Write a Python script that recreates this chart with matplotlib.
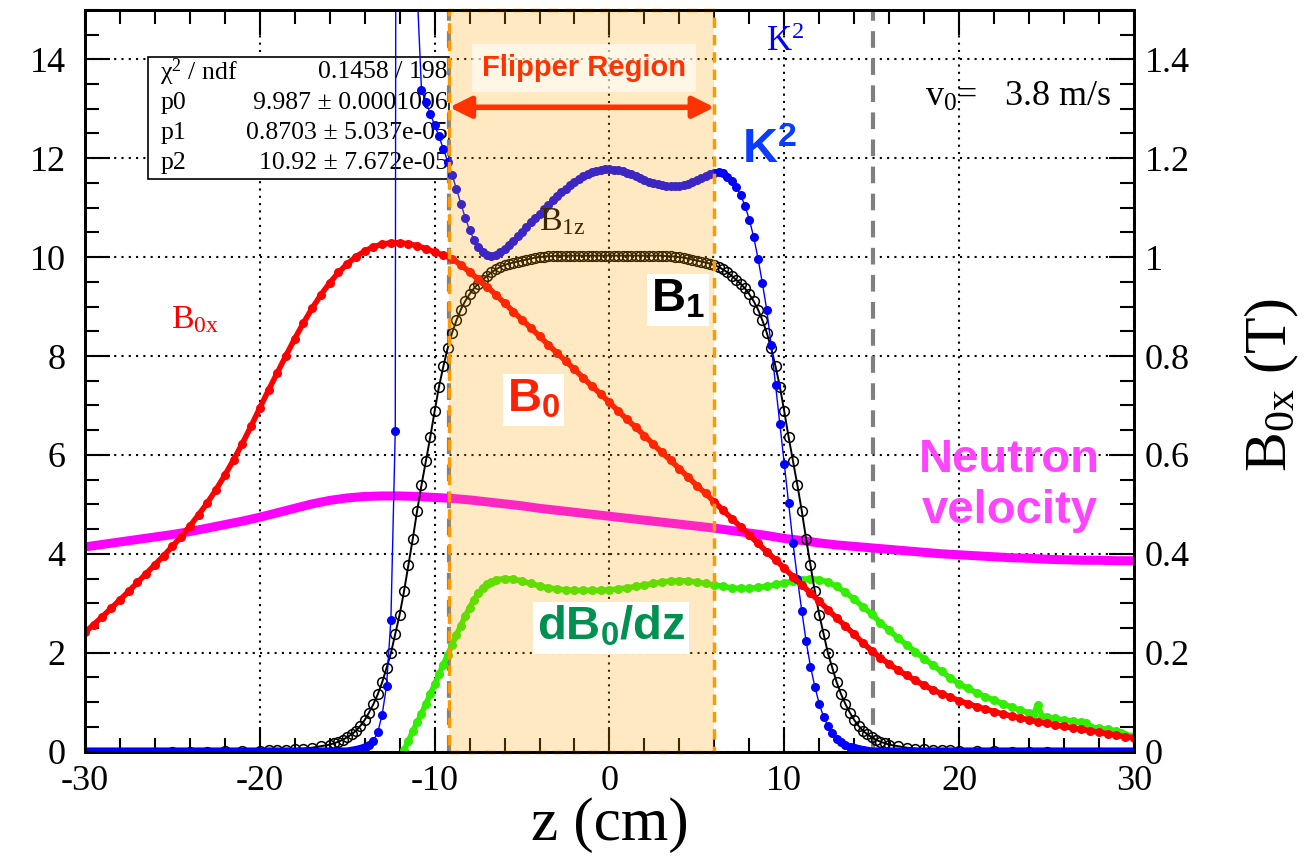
import numpy as np
import matplotlib.pyplot as plt
from matplotlib.patches import Rectangle
from matplotlib.ticker import MultipleLocator, FuncFormatter

plt.rcParams['font.family'] = 'Liberation Serif'
plt.rcParams['mathtext.fontset'] = 'custom'
plt.rcParams['mathtext.rm'] = 'Liberation Serif'
plt.rcParams['mathtext.it'] = 'Liberation Serif:italic'
plt.rcParams['mathtext.bf'] = 'Liberation Sans:bold'
plt.rcParams['axes.unicode_minus'] = False

# B0x (red), sampled every 0.5 cm from -30 to 30
z_b0 = np.arange(-30, 30.01, 0.5)
b0x = [2.41, 2.57, 2.73, 2.90, 3.07, 3.24, 3.42, 3.60, 3.78, 3.96,
       4.15, 4.35, 4.56, 4.79, 5.03, 5.30, 5.59, 5.90, 6.23, 6.58,
       6.95, 7.31, 7.66, 8.01, 8.35, 8.67, 8.97, 9.24, 9.48, 9.69,
       9.86, 10.01, 10.12, 10.21, 10.26, 10.29, 10.29, 10.27, 10.23, 10.17,
       10.10, 10.04, 9.97, 9.84, 9.70, 9.55, 9.40, 9.24, 9.07, 8.90,
       8.73, 8.57, 8.40, 8.23, 8.06, 7.90, 7.73, 7.56, 7.39, 7.23,
       7.06, 6.89, 6.72, 6.56, 6.39, 6.22, 6.05, 5.89, 5.72, 5.55,
       5.38, 5.22, 5.05, 4.88, 4.71, 4.55, 4.38, 4.21, 4.04, 3.88,
       3.71, 3.54, 3.37, 3.21, 3.04, 2.87, 2.70, 2.54, 2.37, 2.20,
       2.04, 1.90, 1.77, 1.65, 1.54, 1.44, 1.34, 1.25, 1.17, 1.10,
       1.03, 0.97, 0.91, 0.86, 0.81, 0.76, 0.72, 0.68, 0.64, 0.60,
       0.57, 0.54, 0.51, 0.48, 0.45, 0.42, 0.39, 0.36, 0.33, 0.30,
       0.28]

# neutron velocity (magenta), every 1 cm
z_vel = np.arange(-30, 30.01, 1.0)
vel = [4.14, 4.19, 4.24, 4.29, 4.34, 4.39, 4.45, 4.52, 4.59, 4.66,
       4.74, 4.83, 4.92, 5.01, 5.08, 5.13, 5.16, 5.17, 5.17, 5.16,
       5.14, 5.12, 5.09, 5.05, 5.01, 4.97, 4.92, 4.88, 4.84, 4.80,
       4.76, 4.72, 4.68, 4.64, 4.60, 4.56, 4.52, 4.47, 4.42, 4.37,
       4.31, 4.27, 4.22, 4.18, 4.15, 4.12, 4.09, 4.06, 4.03, 4.00,
       3.98, 3.96, 3.94, 3.92, 3.91, 3.89, 3.88, 3.87, 3.87, 3.86,
       3.86]

# dB0/dz (green)
dbdz = [(-11.75, 0.03), (-11.5, 0.22), (-11.25, 0.41), (-11.0, 0.59), (-10.75, 0.77),
        (-10.5, 0.96), (-10.25, 1.16), (-10.0, 1.36), (-9.75, 1.56), (-9.5, 1.76),
        (-9.25, 1.96), (-9.0, 2.16), (-8.75, 2.36), (-8.5, 2.55), (-8.25, 2.74),
        (-8.0, 2.91), (-7.75, 3.07), (-7.5, 3.20), (-7.25, 3.31), (-7.0, 3.39),
        (-6.75, 3.44), (-6.5, 3.47), (-6.0, 3.50), (-5.5, 3.49), (-5.0, 3.45),
        (-4.5, 3.40), (-4.0, 3.35), (-3.5, 3.31), (-3.0, 3.29), (-2.5, 3.27),
        (-2.0, 3.26), (-1.5, 3.26), (-1.0, 3.26), (-0.5, 3.26), (0.0, 3.27),
        (0.5, 3.29), (1.0, 3.31), (1.5, 3.34), (2.0, 3.37), (2.5, 3.40),
        (3.0, 3.43), (3.5, 3.45), (4.0, 3.46), (4.5, 3.45), (5.0, 3.43),
        (5.5, 3.40), (6.0, 3.37), (6.5, 3.34), (7.0, 3.31), (7.5, 3.30),
        (8.0, 3.30), (8.5, 3.32), (9.0, 3.34), (9.5, 3.38), (10.0, 3.41),
        (10.5, 3.45), (11.0, 3.48), (11.5, 3.50), (12.0, 3.48), (12.5, 3.43),
        (13.0, 3.34), (13.5, 3.22), (14.0, 3.08), (14.5, 2.93), (15.0, 2.78),
        (15.5, 2.61), (16.0, 2.45), (16.5, 2.30), (17.0, 2.16), (17.5, 2.02),
        (18.0, 1.88), (18.5, 1.75), (19.0, 1.62), (19.5, 1.49), (20.0, 1.37),
        (20.5, 1.28), (21.0, 1.19), (21.5, 1.11), (22.0, 1.04), (22.5, 0.97),
        (23.0, 0.90), (23.5, 0.84), (24.0, 0.78), (24.25, 0.75), (24.5, 0.95),
        (24.75, 0.70), (25.0, 0.69), (25.5, 0.67), (26.0, 0.64), (26.5, 0.61),
        (27.0, 0.59), (27.25, 0.57), (27.5, 0.50), (28.0, 0.47), (28.5, 0.45),
        (29.0, 0.42), (29.25, 0.38), (29.5, 0.34), (30.0, 0.32)]

# K^2 (blue)
k2 = [(-30.0, 0.0), (-29.0, 0.0), (-28.0, 0.0), (-27.0, 0.0), (-26.0, 0.0), (-25.0, 0.0),
      (-24.0, 0.0), (-23.0, 0.0), (-22.0, 0.0), (-21.0, 0.0), (-20.0, 0.0), (-19.0, 0.0),
      (-18.0, 0.0), (-17.0, 0.0), (-16.0, 0.0), (-15.0, 0.0),
      (-14.5, 0.03), (-14.25, 0.05), (-14.0, 0.08), (-13.75, 0.13), (-13.5, 0.22),
      (-13.25, 0.39), (-13.0, 0.75), (-12.75, 1.33), (-12.5, 2.67), (-12.25, 6.49),
      (-12.0, 90.0), (-11.75, 50.0), (-11.5, 26.0), (-11.25, 18.0), (-11.0, 15.4),
      (-10.75, 13.37), (-10.5, 13.14), (-10.25, 12.90), (-10.0, 12.67), (-9.75, 12.44),
      (-9.5, 12.19), (-9.25, 11.93), (-9.0, 11.66), (-8.75, 11.38), (-8.5, 11.08),
      (-8.25, 10.80), (-8.0, 10.55), (-7.75, 10.35), (-7.5, 10.20), (-7.25, 10.10),
      (-7.0, 10.05), (-6.75, 10.03), (-6.5, 10.05), (-6.25, 10.10), (-6.0, 10.17),
      (-5.75, 10.25), (-5.5, 10.33), (-5.25, 10.42), (-5.0, 10.51), (-4.75, 10.60),
      (-4.5, 10.70), (-4.25, 10.79), (-4.0, 10.88), (-3.75, 10.97), (-3.5, 11.06),
      (-3.25, 11.15), (-3.0, 11.24), (-2.75, 11.31), (-2.5, 11.38), (-2.25, 11.45),
      (-2.0, 11.52), (-1.75, 11.58), (-1.5, 11.64), (-1.25, 11.68), (-1.0, 11.72),
      (-0.75, 11.75), (-0.5, 11.77), (-0.25, 11.78), (0.0, 11.78), (0.25, 11.77),
      (0.5, 11.76), (0.75, 11.74), (1.0, 11.71), (1.25, 11.68), (1.5, 11.64),
      (1.75, 11.60), (2.0, 11.56), (2.25, 11.52), (2.5, 11.49), (2.75, 11.47),
      (3.0, 11.45), (3.25, 11.44), (3.5, 11.43), (3.75, 11.43), (4.0, 11.44),
      (4.25, 11.46), (4.5, 11.48), (4.75, 11.52), (5.0, 11.56), (5.25, 11.60),
      (5.5, 11.65), (5.75, 11.68), (6.0, 11.71), (6.25, 11.72), (6.5, 11.70),
      (6.75, 11.63), (7.0, 11.53), (7.25, 11.42), (7.5, 11.26), (7.75, 11.04),
      (8.0, 10.76), (8.25, 10.41), (8.5, 9.97), (8.75, 9.47), (9.0, 8.93),
      (9.25, 8.22), (9.5, 7.42), (9.75, 6.62), (10.0, 5.82), (10.25, 5.03),
      (10.5, 4.22), (10.75, 3.50), (11.0, 2.85), (11.25, 2.23), (11.5, 1.72),
      (11.75, 1.31), (12.0, 0.97), (12.25, 0.70), (12.5, 0.52), (12.75, 0.37),
      (13.0, 0.26), (13.25, 0.19), (13.5, 0.14), (13.75, 0.10), (14.0, 0.07),
      (14.5, 0.03), (15.0, 0.0), (16.0, 0.0), (17.0, 0.0), (18.0, 0.0), (19.0, 0.0),
      (20.0, 0.0), (21.0, 0.0), (22.0, 0.0), (23.0, 0.0), (24.0, 0.0), (25.0, 0.0),
      (26.0, 0.0), (27.0, 0.0), (28.0, 0.0), (29.0, 0.0), (30.0, 0.0)]

# B1z (black open circles)
b1 = [(-25.0, 0.0), (-24.0, 0.0), (-23.0, 0.0), (-22.0, 0.01), (-21.0, 0.01),
      (-20.0, 0.02), (-19.5, 0.03), (-19.0, 0.03), (-18.5, 0.04), (-18.0, 0.05),
      (-17.5, 0.06), (-17.0, 0.08), (-16.5, 0.11), (-16.0, 0.14), (-15.75, 0.17),
      (-15.5, 0.20), (-15.25, 0.24), (-15.0, 0.29), (-14.75, 0.35), (-14.5, 0.42),
      (-14.25, 0.52), (-14.0, 0.64), (-13.75, 0.79), (-13.5, 0.96), (-13.25, 1.16),
      (-13.0, 1.40), (-12.75, 1.69), (-12.5, 1.99), (-12.25, 2.38), (-12.0, 2.77),
      (-11.75, 3.24), (-11.5, 3.77), (-11.25, 4.30), (-11.0, 4.87), (-10.75, 5.39),
      (-10.5, 5.87), (-10.25, 6.36), (-10.0, 6.88), (-9.75, 7.38), (-9.5, 7.79),
      (-9.25, 8.16), (-9.0, 8.47), (-8.75, 8.72), (-8.5, 8.94), (-8.25, 9.11),
      (-8.0, 9.25), (-7.75, 9.37), (-7.5, 9.46), (-7.25, 9.54), (-7.0, 9.62),
      (-6.75, 9.69), (-6.5, 9.75), (-6.25, 9.80), (-6.0, 9.84), (-5.75, 9.87),
      (-5.5, 9.89), (-5.25, 9.91), (-5.0, 9.93), (-4.75, 9.95), (-4.5, 9.97),
      (-4.25, 9.99), (-4.0, 10.00), (-3.75, 10.01), (-3.5, 10.02), (-3.25, 10.02),
      (-3.0, 10.03), (-2.75, 10.03), (-2.5, 10.03), (-2.25, 10.03), (-2.0, 10.03),
      (-1.75, 10.03), (-1.5, 10.03), (-1.25, 10.03), (-1.0, 10.03), (-0.75, 10.03),
      (-0.5, 10.03), (-0.25, 10.03), (0.0, 10.03), (0.25, 10.03), (0.5, 10.03),
      (0.75, 10.03), (1.0, 10.03), (1.25, 10.03), (1.5, 10.03), (1.75, 10.03),
      (2.0, 10.03), (2.25, 10.03), (2.5, 10.03), (2.75, 10.03), (3.0, 10.03),
      (3.25, 10.02), (3.5, 10.02), (3.75, 10.01), (4.0, 10.00), (4.25, 9.99),
      (4.5, 9.97), (4.75, 9.95), (5.0, 9.93), (5.25, 9.91), (5.5, 9.89),
      (5.75, 9.87), (6.0, 9.84), (6.25, 9.80), (6.5, 9.75), (6.75, 9.69),
      (7.0, 9.62), (7.25, 9.54), (7.5, 9.46), (7.75, 9.37), (8.0, 9.25),
      (8.25, 9.11), (8.5, 8.94), (8.75, 8.72), (9.0, 8.47), (9.25, 8.16),
      (9.5, 7.79), (9.75, 7.38), (10.0, 6.88), (10.25, 6.36), (10.5, 5.87),
      (10.75, 5.39), (11.0, 4.87), (11.25, 4.30), (11.5, 3.77), (11.75, 3.24),
      (12.0, 2.77), (12.25, 2.38), (12.5, 1.99), (12.75, 1.69), (13.0, 1.40),
      (13.25, 1.16), (13.5, 0.96), (13.75, 0.79), (14.0, 0.64), (14.25, 0.52),
      (14.5, 0.42), (14.75, 0.35), (15.0, 0.29), (15.25, 0.24), (15.5, 0.20),
      (15.75, 0.17), (16.0, 0.14), (16.5, 0.11), (17.0, 0.08), (17.5, 0.06),
      (18.0, 0.05), (18.5, 0.04), (19.0, 0.03), (19.5, 0.03), (20.0, 0.02),
      (21.0, 0.01), (22.0, 0.01), (23.0, 0.0), (24.0, 0.0), (25.0, 0.0)]

flip_lo, flip_hi = -9.15, 6.0     # flipper region (cm)
marks = [-9.15, 15.1]             # grey dashed markers
fit_rows = [(r'χ$^{\mathrm{2}}$ / ndf', '0.1458 / 198'),
            ('p0', '9.987 ± 0.0001006'),
            ('p1', '0.8703 ± 5.037e-05'),
            ('p2', '10.92 ± 7.672e-05')]

gz, gy = np.array(dbdz).T
kz, ky = np.array(k2).T
bz, by = np.array(b1).T

fig = plt.figure(figsize=(13.05, 8.58), dpi=100)
ax = fig.add_axes([0.0651, 0.1240, 0.8038, 0.8645])
ax.set_xlim(-30, 30)
ax.set_ylim(0, 15)
ax.grid(True, which='major', color='black', ls=(0, (1, 2.5)), lw=1.5)

# fit statistics box
ax.add_patch(Rectangle((-26.4, 11.58), 17.25, 2.46, fc='white', ec='black',
                       lw=1.2, zorder=1.8))
for i, (lab, val) in enumerate(fit_rows):
    yy = 13.74 - 0.615 * i
    ax.text(-25.7, yy, lab, fontsize=18.5, va='center', zorder=1.85)
    ax.text(-9.25, yy, val, fontsize=18.5, va='center', ha='right', zorder=1.85)

for xm in marks:
    ax.axvline(xm, color='#808080', lw=3, ls=(0, (4, 2.5)), zorder=1.9)

ax.plot(z_vel, vel, color='#ff00ff', lw=6.5, solid_capstyle='round', zorder=2.0)
ax.plot(gz, gy, color='#33ee00', lw=4, marker='o', ms=6.5, mew=0, zorder=2.1)
ax.plot(bz, by, color='black', lw=1.4, marker='o', ms=7, mfc='none',
        mec='black', mew=1.1, zorder=2.2)
ax.plot(kz, ky, color='blue', lw=1, marker='o', ms=6.5, mew=0, zorder=2.3)
ax.plot(kz, np.where(ky < 0.1, ky, np.nan), color='blue', lw=6, zorder=2.3)
ax.plot(z_b0, b0x, color='red', lw=4, marker='o', ms=6.5, mew=0, zorder=2.4)

ax.text(-2.72, 10.71, r'B$_{\mathrm{1z}}$', fontsize=24.5, ha='center',
        va='center', zorder=2.9)

# flipper region overlay
ax.add_patch(Rectangle((flip_lo, 0), flip_hi - flip_lo, 15, fc=(1, 0.65, 0),
                       alpha=0.24, ec='none', zorder=3))
ax.add_patch(Rectangle((flip_lo, 0), flip_hi - flip_lo, 15, fill=False,
                       ec='#ff9900', lw=2.5, ls=(0, (3, 2)), zorder=3.1,
                       clip_on=False))

ax.text(-1.46, 13.82, 'Flipper Region', family='Liberation Sans',
        fontweight='bold', fontsize=21, color='#ff3300', ha='center',
        va='center', zorder=4,
        bbox=dict(boxstyle='square,pad=0.35', fc='white', ec='none', alpha=0.6))
ax.annotate('', xy=(flip_hi, 13.03), xytext=(flip_lo, 13.03), zorder=4,
            arrowprops=dict(arrowstyle='<|-|>', color='#ff3300', lw=4,
                            mutation_scale=32, shrinkA=0, shrinkB=0))

sans = dict(family='Liberation Sans', fontweight='bold', ha='center',
            va='center', zorder=4)
wbox = dict(boxstyle='square,pad=0.08', fc='white', ec='none')
ax.text(9.18, 12.16, r'K$^{\mathbf{2}}$', fontsize=35, color='#0a3cff', **sans)
ax.text(3.92, 9.13, r'B$_{\mathbf{1}}$', fontsize=34, color='black',
        bbox=wbox, **sans)
ax.text(-4.32, 7.11, r'B$_{\mathbf{0}}$', fontsize=34, color='#ff2200',
        bbox=wbox, **sans)
ax.text(0.09, 2.50, r'dB$_{\mathbf{0}}$/dz', fontsize=34, color='#00904f',
        bbox=wbox, **sans)
ax.text(22.9, 5.38, 'Neutron\nvelocity', fontsize=34, color='#ff44ff',
        linespacing=1.2, **sans)

ax.text(-23.7, 8.73, r'B$_{\mathrm{0x}}$', fontsize=24.5, color='red',
        ha='center', va='center', zorder=4)
ax.text(10.05, 14.33, r'K$^{\mathrm{2}}$', fontsize=25, color='blue',
        ha='center', va='center', zorder=4)
ax.text(18.05, 13.23, r'v$_{\mathrm{0}}$=   3.8 m/s', fontsize=26,
        va='center', zorder=4)

# axes styling
ax.xaxis.set_major_locator(MultipleLocator(10))
ax.xaxis.set_minor_locator(MultipleLocator(2))
ax.yaxis.set_major_locator(MultipleLocator(2))
ax.yaxis.set_minor_locator(MultipleLocator(0.5))
ax.tick_params(which='both', direction='in', top=True, right=False,
               labelsize=26, width=1.5)
ax.tick_params(which='major', length=18)
ax.tick_params(which='minor', length=10)
ax.tick_params(axis='x', pad=10)
ax.tick_params(axis='y', pad=14)
for s in ax.spines.values():
    s.set_linewidth(2)

ax2 = ax.twinx()
ax2.set_ylim(0, 1.5)
ax2.yaxis.set_major_locator(MultipleLocator(0.2))
ax2.yaxis.set_minor_locator(MultipleLocator(0.05))
ax2.yaxis.set_major_formatter(FuncFormatter(lambda v, p: f'{v:g}'))
ax2.tick_params(which='both', direction='in', labelsize=26, width=1.5, pad=8)
ax2.tick_params(which='major', length=18)
ax2.tick_params(which='minor', length=10)
for s in ax2.spines.values():
    s.set_linewidth(2)

fig.text(609.5 / 1305, 1 - 825 / 858, 'z (cm)', fontsize=44, ha='center',
         va='center')
fig.text(1272 / 1305, 1 - 385 / 858, r'B$_{\mathrm{0x}}$ (T)', fontsize=43,
         rotation=90, ha='center', va='center')

fig.savefig('out.png', dpi=100)
